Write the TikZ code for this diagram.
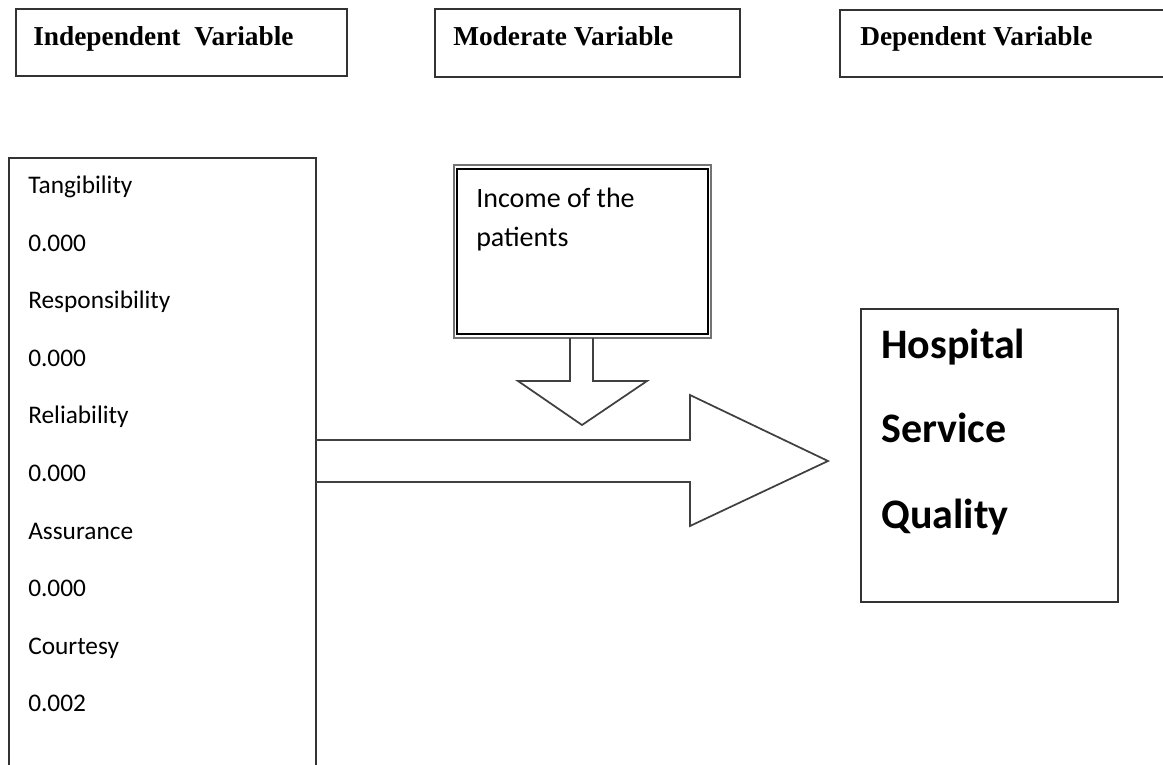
\documentclass[tikz,border=0pt]{standalone}
\usepackage{fontspec}
\setmainfont{Carlito}
\newfontfamily\timesfont{Liberation Serif}
\begin{document}
\begin{tikzpicture}[x=0.75pt,y=-0.75pt,
  frame/.style={draw=black!80,line width=1.3pt},
  hdr/.style={anchor=base west,inner sep=0pt,font=\timesfont\bfseries\fontsize{20.5}{24}\selectfont},
  itm/.style={anchor=base west,inner sep=0pt,font=\fontsize{19}{22}\selectfont},
  inc/.style={anchor=base west,inner sep=0pt,font=\fontsize{21}{25}\selectfont},
  big/.style={anchor=base west,inner sep=0pt,font=\bfseries\fontsize{31.5}{38}\selectfont},
  blockarrow/.style={draw=black!75,line width=1.3pt,line join=miter}]
\useasboundingbox (0,0) rectangle (1163,764);
% header boxes
\draw[frame] (16,9) rectangle (347,76);
\node[hdr] (h1) at (33,45) {Independent\ \ Variable};
\draw[frame] (435,9) rectangle (740,77);
\node[hdr] (h2) at (453,45) {Moderate Variable};
\draw[frame] (1175,10) -- (840,10) -- (840,77) -- (1175,77);
\node[hdr] (h3) at (860,45) {Dependent Variable};
% left box (open at bottom)
\draw[frame] (9,780) -- (9,158) -- (316,158) -- (316,780);
\foreach \t [count=\i from 0] in {Tangibility,0.000,Responsibility,0.000,Reliability,0.000,Assurance,0.000,Courtesy,0.002}{
  \node[itm] (l\i) at (28,{193.5+57.6*\i}) {\t};
}
% income box
\draw[draw=black!55,line width=1.6pt] (454,165) rectangle (711,338);
\draw[draw=black,line width=0.8pt] (457,169) rectangle (708,334);
\node[inc] (inc1) at (476,207) {Income of the};
\node[inc] (inc2) at (476,246) {patients};
% down arrow
\coordinate (da1) at (570,338);
\coordinate (da2) at (593,338);
\draw[blockarrow] (da1) -- (570,381) -- (518,381) -- (582,425) -- (647,381) -- (593,381) -- (da2);
% right arrow
\coordinate (ra1) at (316,440);
\coordinate (ra2) at (316,482);
\draw[blockarrow] (ra1) -- (690,440) -- (690,395) -- (828,461) -- (690,526) -- (690,482) -- (ra2);
% hospital box
\draw[frame] (861,309) rectangle (1118,602);
\node[big] (hs1) at (881,358) {Hospital};
\node[big] (hs2) at (881,442) {Service};
\node[big] (hs3) at (881,528) {Quality};
\end{tikzpicture}
\end{document}
